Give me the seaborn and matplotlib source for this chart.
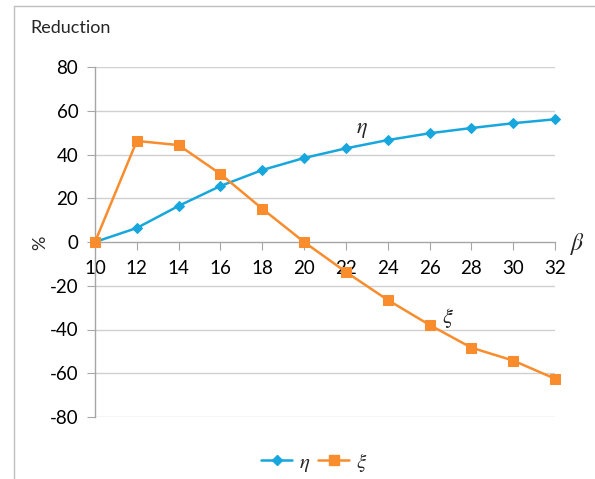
import matplotlib
matplotlib.use("Agg")
import matplotlib.pyplot as plt
from matplotlib.lines import Line2D
import seaborn as sns
import pandas as pd

beta = [10, 12, 14, 16, 18, 20, 22, 24, 26, 28, 30, 32]
eta = [0, 6.4, 16.5, 25.6, 32.9, 38.4, 42.8, 46.6, 49.7, 52.1, 54.3, 56.1]
xi = [0, 46.2, 44.3, 31.1, 15.2, 0, -13.7, -26.5, -37.9, -48.3, -54.2, -62.5]
y_ticks = [-80, -60, -40, -20, 0, 20, 40, 60, 80]

blue = "#17A7DD"
orange = "#F98C2D"
grid_c = "#D0D0D0"
axis_c = "#A6A6A6"

sns.set_style("white")
plt.rcParams["font.family"] = ["Lato", "DejaVu Sans"]
plt.rcParams["mathtext.fontset"] = "stix"

fig = plt.figure(figsize=(5.95, 4.79), dpi=100)
ax = fig.add_axes([95 / 595, 1 - 417 / 479, 460 / 595, 350 / 479])

df = pd.DataFrame({"beta": beta + beta,
                   "val": eta + xi,
                   "series": ["eta"] * len(beta) + ["xi"] * len(beta)})

sns.lineplot(data=df[df.series == "eta"], x="beta", y="val", ax=ax, color=blue,
             marker="D", markersize=5, markeredgecolor=blue, linewidth=1.8, legend=False,
             clip_on=False, zorder=3)
sns.lineplot(data=df[df.series == "xi"], x="beta", y="val", ax=ax, color=orange,
             marker="s", markersize=7, markeredgecolor=orange, linewidth=1.8, legend=False,
             clip_on=False, zorder=3)

ax.set_xlim(10, 32)
ax.set_ylim(-80, 80)
ax.set_xticks(beta)
ax.set_yticks(y_ticks)
ax.set_xticklabels([str(b) for b in beta])
ax.set_yticklabels([str(v) for v in y_ticks])
for v in y_ticks:
    if v != 0:
        ax.axhline(v, color=grid_c, linewidth=1, zorder=0)

for s in ["top", "right"]:
    ax.spines[s].set_visible(False)
ax.spines["left"].set_color(axis_c)
ax.spines["bottom"].set_color(axis_c)
ax.spines["bottom"].set_position(("data", 0))
ax.spines["left"].set_linewidth(1)
ax.spines["bottom"].set_linewidth(1)
ax.tick_params(axis="both", direction="out", length=6, color=axis_c, labelsize=13.5,
               labelcolor="black", left=True, bottom=True)
ax.tick_params(axis="x", pad=7)
ax.tick_params(axis="y", pad=6)
ax.set_xlabel("")
ax.set_ylabel("")

ax.annotate(r"$\eta$", xy=(362 / 595, 1 - 130 / 479), xycoords="figure fraction",
            fontsize=16, ha="center", va="center")
ax.annotate(r"$\xi$", xy=(448 / 595, 1 - 318 / 479), xycoords="figure fraction",
            fontsize=16, ha="center", va="center")
fig.text(578 / 595, 1 - 244 / 479, r"$\beta$", fontsize=17, ha="center", va="center")
fig.text(30 / 595, 1 - 28 / 479, "Reduction", fontsize=13, ha="left", va="center")
fig.text(40 / 595, 1 - 243 / 479, "%", fontsize=13, ha="center", va="center", rotation=90)

handles = [Line2D([], [], color=blue, marker="D", markersize=5, linewidth=1.8),
           Line2D([], [], color=orange, marker="s", markersize=7, linewidth=1.8)]
fig.legend(handles, [r"$\eta$", r"$\xi$"], loc="center", bbox_to_anchor=(314 / 595, 1 - 462 / 479),
           ncol=2, frameon=False, fontsize=15, handlelength=1.5, handletextpad=0.3,
           columnspacing=0.4)

fig.add_artist(Line2D([14 / 595, 14 / 595], [0, 1 - 6 / 479], color="#BFBFBF", linewidth=1,
                      transform=fig.transFigure))
fig.add_artist(Line2D([14 / 595, 1], [1 - 6 / 479, 1 - 6 / 479], color="#BFBFBF", linewidth=1,
                      transform=fig.transFigure))

fig.savefig("out.png", dpi=100)
